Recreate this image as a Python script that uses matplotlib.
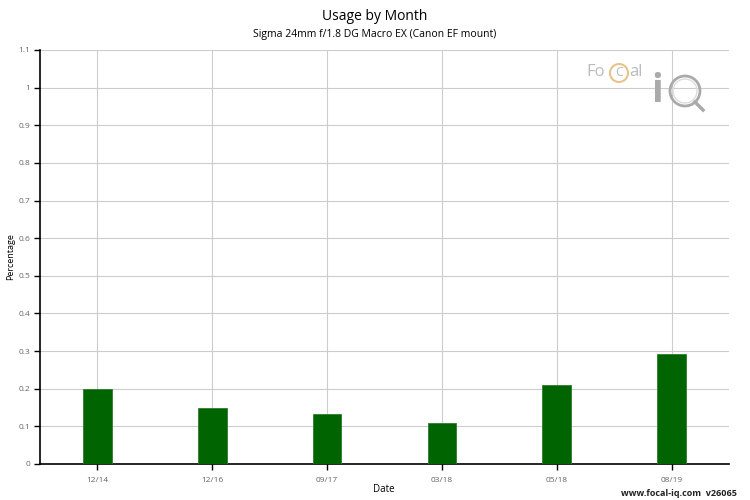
import numpy as np
import matplotlib.pyplot as plt
from matplotlib.patches import Ellipse
from matplotlib.lines import Line2D

plt.rcParams['font.family'] = ['Open Sans', 'DejaVu Sans']

# data
dates = ['12/14', '12/16', '09/17', '03/18', '05/18', '08/19']
usage = [0.2, 0.148, 0.133, 0.108, 0.209, 0.291]
yticks = [0, 0.1, 0.2, 0.3, 0.4, 0.5, 0.6, 0.7, 0.8, 0.9, 1, 1.1]
ytick_labels = ['0', '0.1', '0.2', '0.3', '0.4', '0.5', '0.6', '0.7', '0.8', '0.9', '1', '1.1']

W, H = 750, 500
fig = plt.figure(figsize=(7.5, 5), dpi=100)
ax = fig.add_axes([40 / W, 36 / H, 689 / W, 414 / H])

grid_color = '#cccccc'
x = np.arange(len(dates))
ax.bar(x, usage, width=0.25, color='#006400', edgecolor='#2e7d2e', linewidth=0.6, zorder=3)

ax.set_xlim(-0.5, len(dates) - 0.5)
ax.set_ylim(0, 1.1)
ax.set_xticks(x)
ax.set_xticklabels(dates)
ax.set_yticks(yticks)
ax.set_yticklabels(ytick_labels)
ax.grid(True, color=grid_color, linewidth=0.8, zorder=0)
ax.set_axisbelow(True)

for s in ['top', 'right']:
    ax.spines[s].set_visible(False)
for s in ['left', 'bottom']:
    ax.spines[s].set_color('black')
    ax.spines[s].set_linewidth(1.2)

ax.tick_params(axis='both', labelsize=6, labelcolor='#666666', length=4, width=1, color='black')
ax.tick_params(axis='x', pad=5)
ax.tick_params(axis='y', pad=3)

def px(xp, yp):
    return xp / W, 1 - yp / H

fig.text(*px(384, 490), 'Date', ha='center', va='center', fontsize=7)
fig.text(*px(11, 257), 'Percentage', ha='center', va='center', rotation=90, fontsize=6.5)

fig.text(*px(375, 16), 'Usage by Month', ha='center', va='center', fontsize=10)
fig.text(*px(375, 34), 'Sigma 24mm f/1.8 DG Macro EX (Canon EF mount)', ha='center', va='center', fontsize=7.5)
fig.text(*px(737, 493), 'www.focal-iq.com  v26065', ha='right', va='center',
         fontsize=6.5, fontweight='bold', color='#222222')

# logo (rough)
fig.text(*px(586, 72), 'Fo', ha='left', va='center', fontsize=12, color='#bbbbbb')
fig.text(*px(619, 72), 'C', ha='center', va='center', fontsize=9, color='#bbbbbb')
fig.text(*px(629, 72), 'al', ha='left', va='center', fontsize=12, color='#bbbbbb')
fig.text(*px(657, 92), 'i', ha='center', va='center', fontsize=28, color='#aaaaaa', fontweight='bold')
fig.patches.append(Ellipse(px(619, 73), 18 / W, 18 / H, transform=fig.transFigure,
                           fill=False, edgecolor='#e8c48a', linewidth=1.5))
fig.patches.append(Ellipse(px(685, 91), 30 / W, 30 / H, transform=fig.transFigure,
                           fill=False, edgecolor='#aaaaaa', linewidth=2))
fig.patches.append(Ellipse(px(685, 91), 24 / W, 24 / H, transform=fig.transFigure,
                           fill=False, edgecolor='#dddddd', linewidth=1))
fig.lines.append(Line2D([695 / W, 703 / W], [1 - 102 / H, 1 - 110 / H], transform=fig.transFigure,
                        color='#aaaaaa', linewidth=2.5))

fig.savefig('out.png', dpi=100)
